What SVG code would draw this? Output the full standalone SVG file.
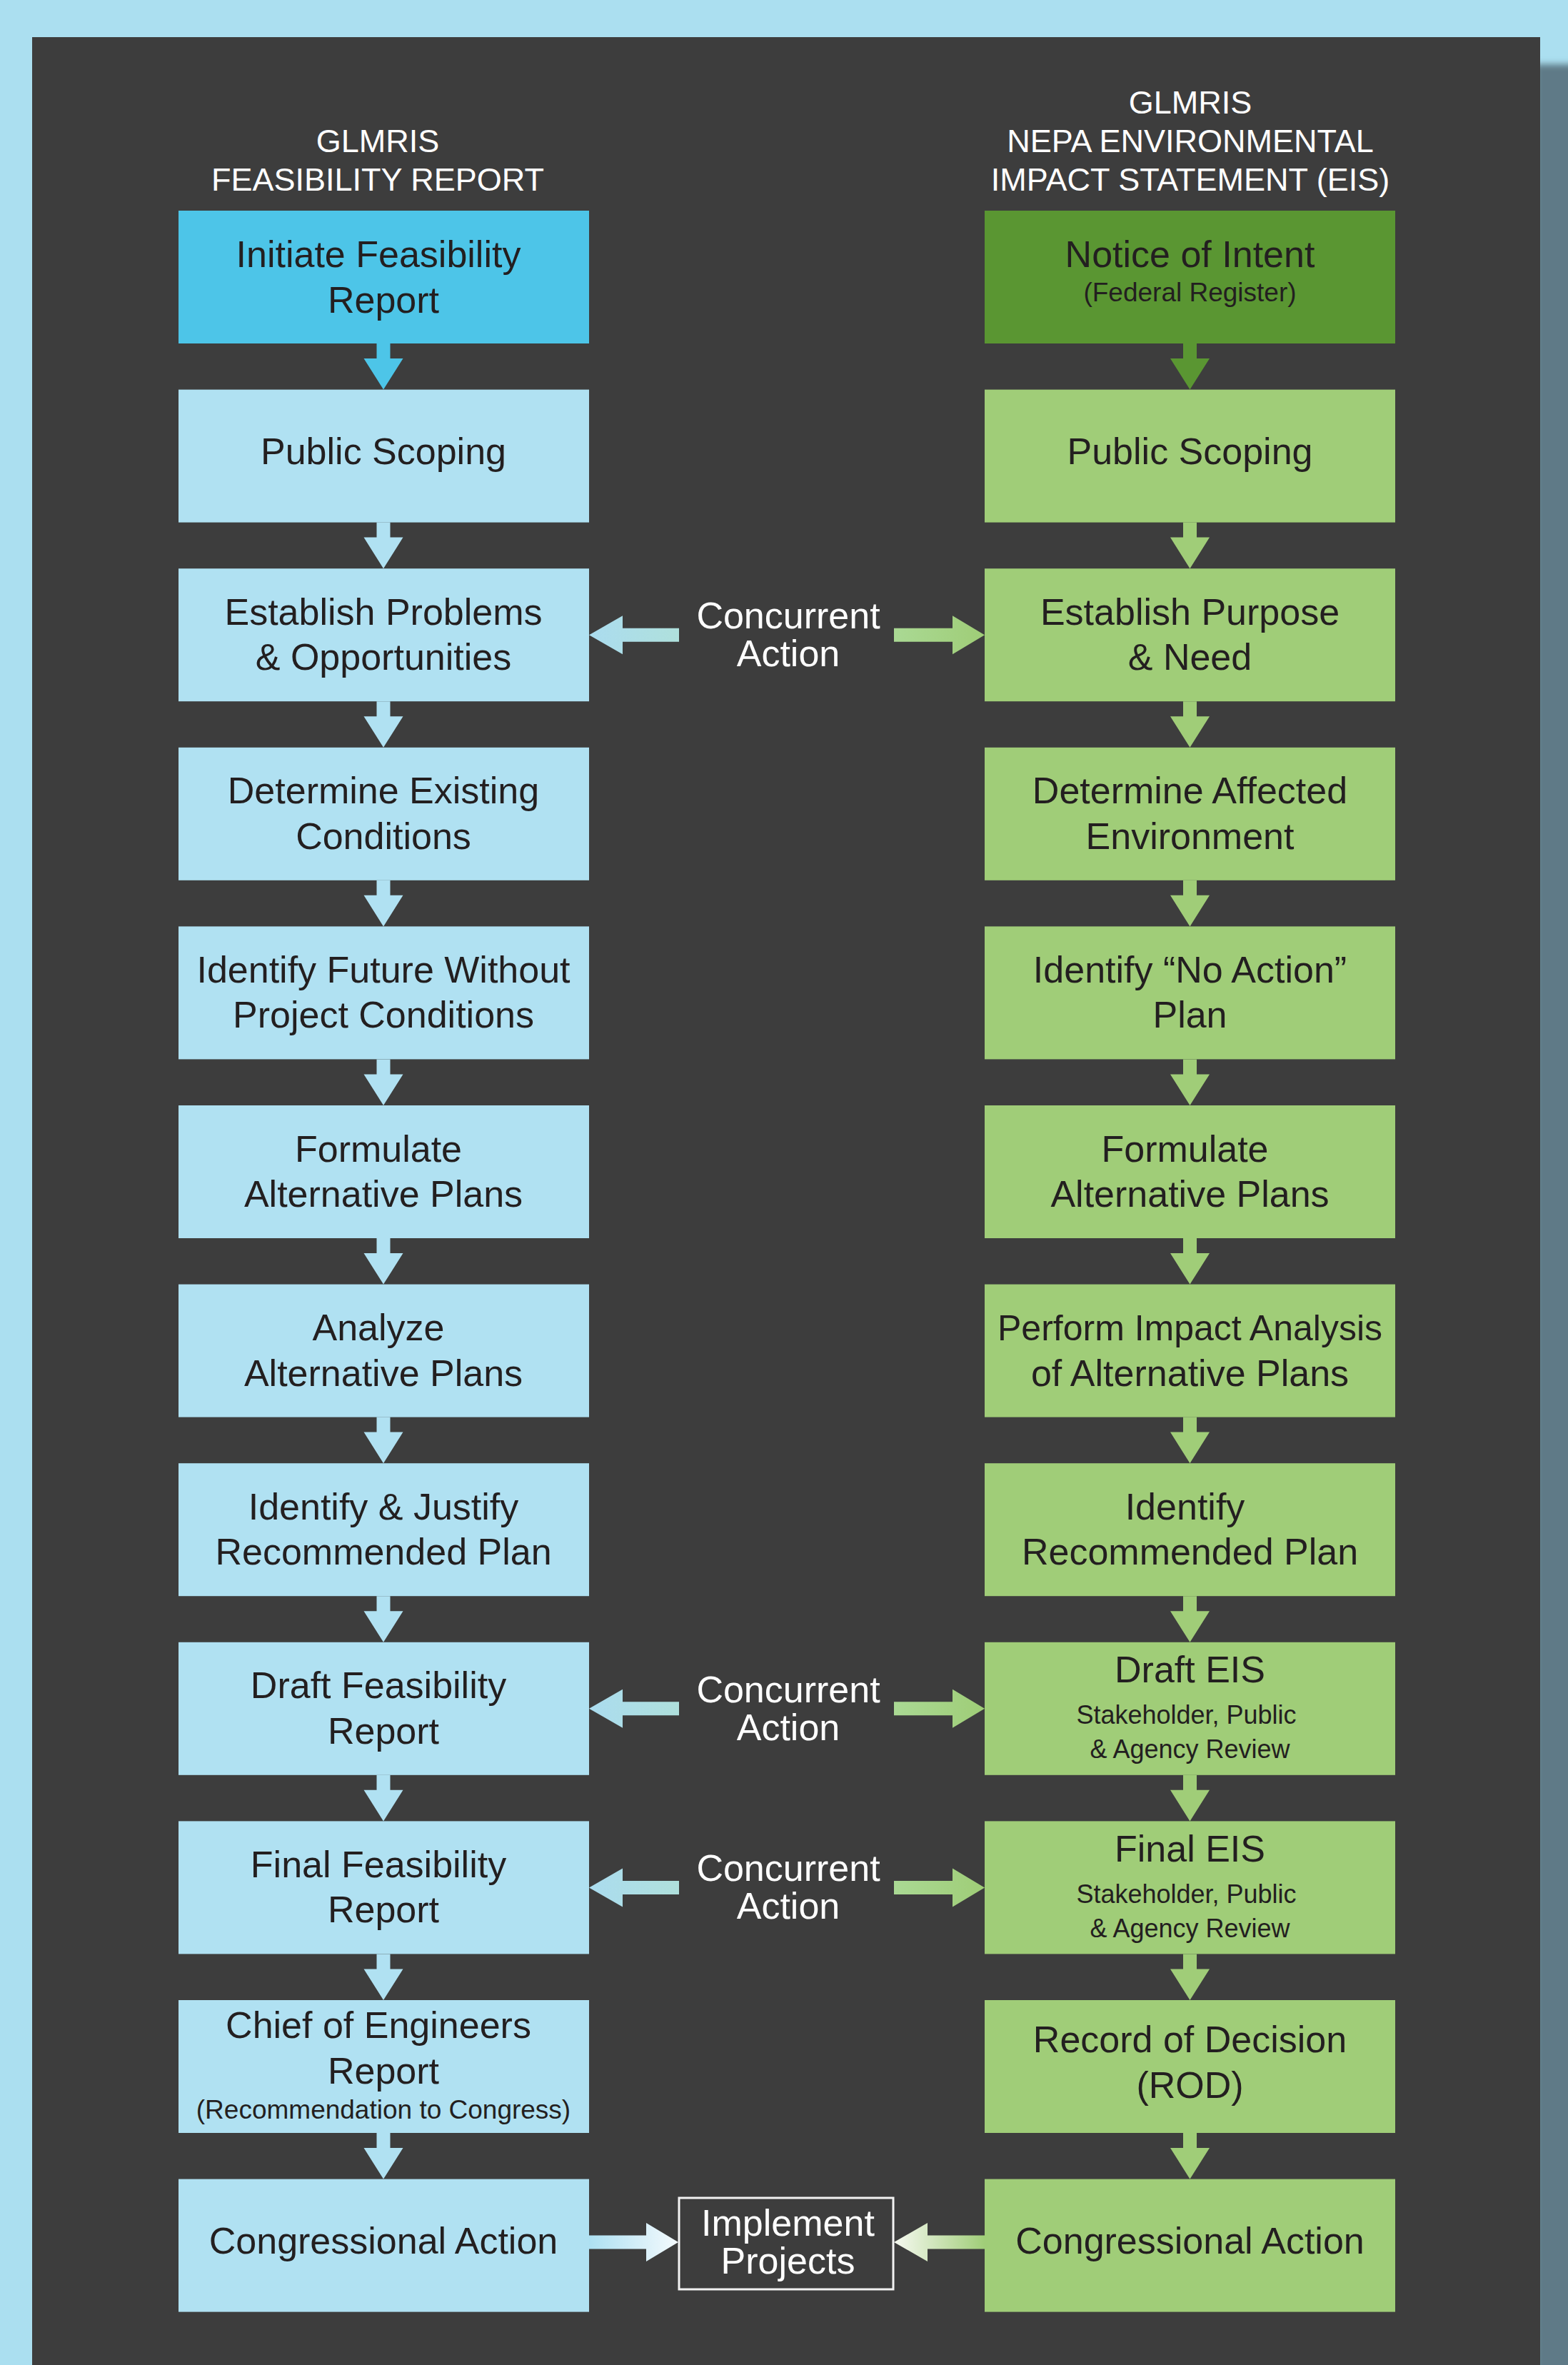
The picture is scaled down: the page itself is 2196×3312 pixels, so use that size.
<svg xmlns="http://www.w3.org/2000/svg" xmlns:xlink="http://www.w3.org/1999/xlink" width="2196" height="3312" viewBox="0 0 2196 3312">
<style>
text{font-family:"Liberation Sans",Arial,Helvetica,sans-serif;text-anchor:middle}
.t{font-size:52px;fill:#231f20}
.s{font-size:37px;fill:#231f20}
.s2{font-size:36px;fill:#231f20}
.w{font-size:52px;fill:#ffffff}
.h{font-size:45px;fill:#ffffff}
.lb{fill:#b0e1f2}
.lg{fill:#a0cd78}
.al{fill:#b0e1f2}
.ag{fill:#a0cd78}
</style>
<defs>
<filter id="blur" x="-50%" y="-5%" width="200%" height="110%"><feGaussianBlur stdDeviation="5"/></filter>
<path id="va" d="M-9.5 0 H9.5 V21 H27.5 L0 64.6 L-27.5 21 H-9.5 Z"/>
<linearGradient id="gl" x1="0" y1="0" x2="1" y2="0"><stop offset="0" stop-color="#abdcef"/><stop offset="1" stop-color="#afe0dc"/></linearGradient>
<linearGradient id="gr" x1="0" y1="0" x2="1" y2="0"><stop offset="0" stop-color="#aad994"/><stop offset="1" stop-color="#9fcd77"/></linearGradient>
<linearGradient id="gil" x1="0" y1="0" x2="1" y2="0"><stop offset="0" stop-color="#ade0f2"/><stop offset="1" stop-color="#f4fafd"/></linearGradient>
<linearGradient id="gir" x1="0" y1="0" x2="1" y2="0"><stop offset="0" stop-color="#f6f9f1"/><stop offset="1" stop-color="#a0cd78"/></linearGradient>
<path id="hl" d="M0 0 L47 -27 V-9.5 H126 V9.5 H47 V27 Z"/>
<path id="hr" d="M0 0 L-45 -27 V-9.5 H-127 V9.5 H-45 V27 Z"/>
</defs>

<rect x="0" y="0" width="2196" height="3312" fill="#abdff0"/>
<rect x="2150" y="90" width="80" height="3300" fill="#5e7a87" filter="url(#blur)"/>
<rect x="45" y="52" width="2112" height="3270" fill="#3d3d3d"/>

<g id="headers">
<text class="h" x="529" y="213">GLMRIS</text>
<text class="h" x="529" y="267">FEASIBILITY REPORT</text>
<text class="h" x="1667" y="159">GLMRIS</text>
<text class="h" x="1667" y="213">NEPA ENVIRONMENTAL</text>
<text class="h" x="1667" y="267">IMPACT STATEMENT (EIS)</text>
</g>

<g id="connectors">
<use xlink:href="#va" href="#va" x="537" y="481" fill="#4dc5e8"/>
<use xlink:href="#va" href="#va" x="537" y="731.6" class="al"/>
<use xlink:href="#va" href="#va" x="537" y="982.2" class="al"/>
<use xlink:href="#va" href="#va" x="537" y="1232.8" class="al"/>
<use xlink:href="#va" href="#va" x="537" y="1483.4" class="al"/>
<use xlink:href="#va" href="#va" x="537" y="1734" class="al"/>
<use xlink:href="#va" href="#va" x="537" y="1984.6" class="al"/>
<use xlink:href="#va" href="#va" x="537" y="2235.2" class="al"/>
<use xlink:href="#va" href="#va" x="537" y="2485.8" class="al"/>
<use xlink:href="#va" href="#va" x="537" y="2736.4" class="al"/>
<use xlink:href="#va" href="#va" x="537" y="2987" class="al"/>

<use xlink:href="#va" href="#va" x="1666.5" y="481" fill="#5a9632"/>
<use xlink:href="#va" href="#va" x="1666.5" y="731.6" class="ag"/>
<use xlink:href="#va" href="#va" x="1666.5" y="982.2" class="ag"/>
<use xlink:href="#va" href="#va" x="1666.5" y="1232.8" class="ag"/>
<use xlink:href="#va" href="#va" x="1666.5" y="1483.4" class="ag"/>
<use xlink:href="#va" href="#va" x="1666.5" y="1734" class="ag"/>
<use xlink:href="#va" href="#va" x="1666.5" y="1984.6" class="ag"/>
<use xlink:href="#va" href="#va" x="1666.5" y="2235.2" class="ag"/>
<use xlink:href="#va" href="#va" x="1666.5" y="2485.8" class="ag"/>
<use xlink:href="#va" href="#va" x="1666.5" y="2736.4" class="ag"/>
<use xlink:href="#va" href="#va" x="1666.5" y="2987" class="ag"/>

<use xlink:href="#hl" href="#hl" x="825" y="889.2" fill="url(#gl)"/>
<use xlink:href="#hr" href="#hr" x="1379" y="889.2" fill="url(#gr)"/>
<use xlink:href="#hl" href="#hl" x="825" y="2392.8" fill="url(#gl)"/>
<use xlink:href="#hr" href="#hr" x="1379" y="2392.8" fill="url(#gr)"/>
<use xlink:href="#hl" href="#hl" x="825" y="2643.4" fill="url(#gl)"/>
<use xlink:href="#hr" href="#hr" x="1379" y="2643.4" fill="url(#gr)"/>

<path d="M950 3140 L905 3113 V3130.5 H825 V3149.5 H905 V3167 Z" fill="url(#gil)"/>
<path d="M1252 3140 L1299 3113 V3130.5 H1379 V3149.5 H1299 V3167 Z" fill="url(#gir)"/>

<text class="w" x="1104" y="880.2">Concurrent</text>
<text class="w" x="1104" y="933.2">Action</text>
<text class="w" x="1104" y="2383.8">Concurrent</text>
<text class="w" x="1104" y="2436.8">Action</text>
<text class="w" x="1104" y="2634.4">Concurrent</text>
<text class="w" x="1104" y="2687.4">Action</text>
</g>

<g id="L0"><rect x="250" y="295" width="575" height="186" fill="#4dc5e8"/>
<text class="t" x="530" y="374">Initiate Feasibility</text><text class="t" x="537" y="437.5">Report</text></g>
<g id="L1"><rect class="lb" x="250" y="545.6" width="575" height="186"/>
<text class="t" x="537" y="649.6">Public Scoping</text></g>
<g id="L2"><rect class="lb" x="250" y="796.2" width="575" height="186"/>
<text class="t" x="537" y="874.7">Establish Problems</text><text class="t" x="537" y="938.2">&amp; Opportunities</text></g>
<g id="L3"><rect class="lb" x="250" y="1046.8" width="575" height="186"/>
<text class="t" x="537" y="1125.3">Determine Existing</text><text class="t" x="537" y="1188.8">Conditions</text></g>
<g id="L4"><rect class="lb" x="250" y="1297.4" width="575" height="186"/>
<text class="t" x="537" y="1375.9">Identify Future Without</text><text class="t" x="537" y="1439.4">Project Conditions</text></g>
<g id="L5"><rect class="lb" x="250" y="1548" width="575" height="186"/>
<text class="t" x="530" y="1626.5">Formulate</text><text class="t" x="537" y="1690">Alternative Plans</text></g>
<g id="L6"><rect class="lb" x="250" y="1798.6" width="575" height="186"/>
<text class="t" x="530" y="1877.1">Analyze</text><text class="t" x="537" y="1940.6">Alternative Plans</text></g>
<g id="L7"><rect class="lb" x="250" y="2049.2" width="575" height="186"/>
<text class="t" x="537" y="2127.7">Identify &amp; Justify</text><text class="t" x="537" y="2191.2">Recommended Plan</text></g>
<g id="L8"><rect class="lb" x="250" y="2299.8" width="575" height="186"/>
<text class="t" x="530" y="2378.3">Draft Feasibility</text><text class="t" x="537" y="2441.8">Report</text></g>
<g id="L9"><rect class="lb" x="250" y="2550.4" width="575" height="186"/>
<text class="t" x="530" y="2628.9">Final Feasibility</text><text class="t" x="537" y="2692.4">Report</text></g>
<g id="L10"><rect class="lb" x="250" y="2801" width="575" height="186"/>
<text class="t" x="530" y="2854">Chief of Engineers</text><text class="t" x="537" y="2918">Report</text><text class="s" x="537" y="2967">(Recommendation to Congress)</text></g>
<g id="L11"><rect class="lb" x="250" y="3051.6" width="575" height="186"/>
<text class="t" x="537" y="3155.6">Congressional Action</text></g>

<g id="R0"><rect x="1379" y="295" width="575" height="186" fill="#5a9632"/>
<text class="t" x="1666.5" y="374">Notice of Intent</text><text class="s" x="1666.5" y="422">(Federal Register)</text></g>
<g id="R1"><rect class="lg" x="1379" y="545.6" width="575" height="186"/>
<text class="t" x="1666.5" y="649.6">Public Scoping</text></g>
<g id="R2"><rect class="lg" x="1379" y="796.2" width="575" height="186"/>
<text class="t" x="1666.5" y="874.7">Establish Purpose</text><text class="t" x="1666.5" y="938.2">&amp; Need</text></g>
<g id="R3"><rect class="lg" x="1379" y="1046.8" width="575" height="186"/>
<text class="t" x="1666.5" y="1125.3">Determine Affected</text><text class="t" x="1666.5" y="1188.8">Environment</text></g>
<g id="R4"><rect class="lg" x="1379" y="1297.4" width="575" height="186"/>
<text class="t" x="1666.5" y="1375.9">Identify “No Action”</text><text class="t" x="1666.5" y="1439.4">Plan</text></g>
<g id="R5"><rect class="lg" x="1379" y="1548" width="575" height="186"/>
<text class="t" x="1659.5" y="1626.5">Formulate</text><text class="t" x="1666.5" y="1690">Alternative Plans</text></g>
<g id="R6"><rect class="lg" x="1379" y="1798.6" width="575" height="186"/>
<text class="t" x="1666.5" y="1877.1" style="font-size:50px">Perform Impact Analysis</text><text class="t" x="1666.5" y="1940.6">of Alternative Plans</text></g>
<g id="R7"><rect class="lg" x="1379" y="2049.2" width="575" height="186"/>
<text class="t" x="1659.5" y="2127.7">Identify</text><text class="t" x="1666.5" y="2191.2">Recommended Plan</text></g>
<g id="R8"><rect class="lg" x="1379" y="2299.8" width="575" height="186"/>
<text class="t" x="1666.5" y="2356">Draft EIS</text><text class="s2" x="1661.5" y="2414">Stakeholder, Public</text><text class="s2" x="1666.5" y="2462">&amp; Agency Review</text></g>
<g id="R9"><rect class="lg" x="1379" y="2550.4" width="575" height="186"/>
<text class="t" x="1666.5" y="2606.6">Final EIS</text><text class="s2" x="1661.5" y="2664.6">Stakeholder, Public</text><text class="s2" x="1666.5" y="2712.6">&amp; Agency Review</text></g>
<g id="R10"><rect class="lg" x="1379" y="2801" width="575" height="186"/>
<text class="t" x="1666.5" y="2873.5">Record of Decision</text><text class="t" x="1666.5" y="2937.5">(ROD)</text></g>
<g id="R11"><rect class="lg" x="1379" y="3051.6" width="575" height="186"/>
<text class="t" x="1666.5" y="3155.6">Congressional Action</text></g>

<g id="implement"><rect x="951" y="3078" width="300" height="128" fill="none" stroke="#f2f2f2" stroke-width="3"/>
<text class="w" x="1103.5" y="3131">Implement</text><text class="w" x="1103.5" y="3184">Projects</text></g>
</svg>
